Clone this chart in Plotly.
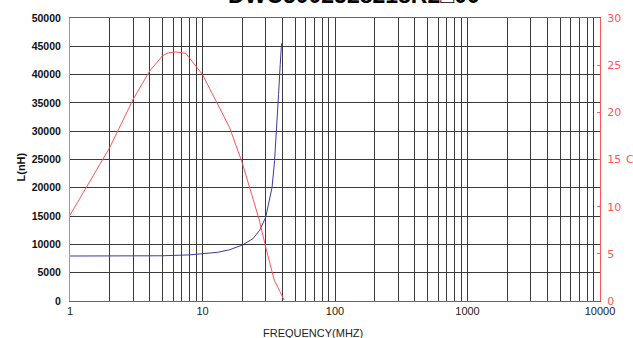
import plotly.graph_objects as go

# Inductance vs frequency
freq_L = [1, 2, 3, 5, 8, 10, 13, 16, 20, 24, 27, 30, 32, 33.5, 35, 36.3, 37.5, 38.6, 39.5]
induct_nH = [7950, 7950, 7960, 7990, 8150, 8300, 8600, 9050, 9900, 11000, 12500,
             14800, 17700, 20100, 24800, 30100, 36500, 41800, 45500]

# Capacitance-side curve vs frequency (right axis)
freq_C = [1, 1.33, 2, 3, 4, 5, 5.5, 6.3, 7.5, 10, 12.7, 16, 20, 23, 26.8, 30, 34.8, 41.3]
cap_c = [9.1, 12.1, 16.3, 21.4, 24.4, 26.0, 26.3, 26.4, 26.25, 24.0, 21.2, 18.4,
         14.6, 11.7, 8.6, 5.7, 2.2, 0.1]

x_ticks = [1, 10, 100, 1000, 10000]
x_minor = [m * d for d in (1, 10, 100, 1000) for m in range(2, 10)]
y_left_ticks = list(range(0, 50001, 5000))
y_right_ticks = [0, 5, 10, 15, 20, 25, 30]

title_text = "DWC5002528218R2\u25a100"

BLUE = "#3a3aa0"
RED = "#ff5555"
GRID = "#3a3a3a"

fig = go.Figure()
fig.add_trace(go.Scatter(x=freq_L, y=induct_nH, mode="lines",
                         line=dict(color=BLUE, width=1), yaxis="y"))
fig.add_trace(go.Scatter(x=freq_C, y=cap_c, mode="lines",
                         line=dict(color=RED, width=1), yaxis="y2"))

fig.update_layout(
    width=633, height=338,
    margin=dict(l=70, r=31, t=17, b=37),
    paper_bgcolor="white", plot_bgcolor="white",
    showlegend=False,
    font=dict(family="Liberation Sans, Arial", size=11, color="#222"),
    xaxis=dict(
        type="log", range=[0, 4],
        tickvals=x_ticks, ticktext=[str(v) for v in x_ticks],
        showgrid=True, gridcolor=GRID, gridwidth=1,
        minor=dict(tickvals=x_minor, showgrid=True, gridcolor=GRID, gridwidth=1),
        showline=True, linecolor="#666", linewidth=1, mirror=True,
        ticks="", zeroline=False,
        tickfont=dict(size=11, color="#222"),
    ),
    yaxis=dict(
        range=[0, 50000], tickvals=y_left_ticks,
        ticktext=[str(v) for v in y_left_ticks],
        showgrid=True, gridcolor=GRID, gridwidth=1,
        showline=True, linecolor="#999", linewidth=1,
        ticks="outside", ticklen=6, tickcolor="rgba(0,0,0,0)",
        zeroline=False,
        tickfont=dict(size=10.5, color="#111", family="Liberation Sans, Arial", weight="bold"),
    ),
    yaxis2=dict(
        range=[0, 30], tickvals=y_right_ticks,
        overlaying="y", side="right",
        showgrid=False, zeroline=False,
        showline=True, linecolor=RED, linewidth=1,
        ticks="inside", ticklen=3, tickcolor=RED,
        tickfont=dict(size=11, color=RED, family="DejaVu Sans"),
        ticklabelstandoff=4,
    ),
    annotations=[
        dict(text=title_text, x=0.536, y=1, xref="paper", yref="paper",
             xanchor="center", yanchor="middle", yshift=23, showarrow=False,
             font=dict(size=23, color="#000", family="Liberation Sans, Arial", weight="bold")),
        dict(text="FREQUENCY(MHZ)", x=0.459, y=0, xref="paper", yref="paper",
             xanchor="center", yanchor="middle", yshift=-32, showarrow=False,
             font=dict(size=11, color="#222")),
        dict(text="L(nH)", x=0, y=0.5, xref="paper", yref="paper",
             xanchor="center", yanchor="middle", xshift=-50, yshift=-8,
             textangle=-90, showarrow=False,
             font=dict(size=11, color="#111", weight="bold")),
        dict(text="C", x=1, y=0.5, xref="paper", yref="paper",
             xanchor="center", yanchor="middle", xshift=30, showarrow=False,
             font=dict(size=11, color=RED, family="DejaVu Sans")),
    ],
)

fig.write_html("out.html")
